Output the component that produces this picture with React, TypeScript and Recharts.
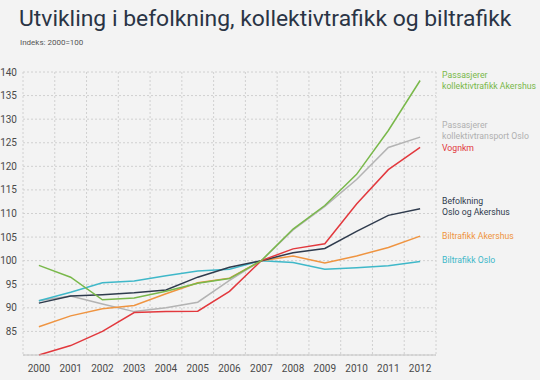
import { LineChart, Line, XAxis, YAxis, CartesianGrid } from "recharts";

const YEARS = [2000, 2001, 2002, 2003, 2004, 2005, 2006, 2007, 2008, 2009, 2010, 2011, 2012];
const Y_TICKS = [85, 90, 95, 100, 105, 110, 115, 120, 125, 130, 135, 140];

const kollAkershus = [99, 96.5, 91.7, 92.1, 93.5, 95.2, 96.2, 100, 106.7, 111.7, 118.3, 127.6, 138.2];
const kollOslo = [91.5, 92.5, 90.8, 89.2, 90, 91.2, 95.8, 100, 106.5, 111.5, 117.2, 124, 126.2];
const vognkm = [80, 82, 85, 89, 89.2, 89.3, 93.5, 100, 102.5, 103.6, 112, 119.3, 124];
const befolkning = [91, 92.5, 92.8, 93.2, 93.8, 96.5, 98.6, 100, 101.7, 102.6, 106.2, 109.6, 111];
const biltrafikkAkershus = [86, 88.3, 89.8, 90.5, 93, 95.3, 96.3, 100, 101, 99.5, 101, 102.8, 105.2];
const biltrafikkOslo = [91.5, 93.3, 95.3, 95.7, 96.8, 97.8, 98.2, 100, 99.6, 98.2, 98.5, 98.9, 99.8];

const data = YEARS.map((year, i) => ({
  year,
  kollAkershus: kollAkershus[i],
  kollOslo: kollOslo[i],
  vognkm: vognkm[i],
  befolkning: befolkning[i],
  biltrafikkAkershus: biltrafikkAkershus[i],
  biltrafikkOslo: biltrafikkOslo[i],
}));

const series = [
  { key: "kollOslo", color: "#b3b3b3" },
  { key: "biltrafikkOslo", color: "#3fb8c9" },
  { key: "biltrafikkAkershus", color: "#ef9440" },
  { key: "befolkning", color: "#2f3b4d" },
  { key: "vognkm", color: "#e2383d" },
  { key: "kollAkershus", color: "#79b84a" },
];

// labels to the right of the plot
const labels = [
  { lines: ["Passasjerer", "kollektivtrafikk Akershus"], color: "#79b84a", top: 70 },
  { lines: ["Passasjerer", "kollektivtransport Oslo"], color: "#b0b0b0", top: 120 },
  { lines: ["Vognkm"], color: "#e2383d", top: 143 },
  { lines: ["Befolkning", "Oslo og Akershus"], color: "#2f3b4d", top: 196 },
  { lines: ["Biltrafikk Akershus"], color: "#ef9440", top: 231 },
  { lines: ["Biltrafikk Oslo"], color: "#3fb8c9", top: 255 },
];

const FONT = "Roboto, 'DejaVu Sans', sans-serif";

// band edges, 1999.5 .. 2012.5
const EDGES = [...YEARS.map((y) => y - 0.5), 2012.5];

export default function App() {
  return (
    <div
      style={{
        position: "absolute",
        left: 0,
        top: 0,
        width: 540,
        height: 380,
        background: "#f3f3f3",
        fontFamily: FONT,
        overflow: "hidden",
      }}
    >
      <div
        style={{
          position: "absolute",
          left: 19,
          top: 5,
          fontSize: 22.9,
          fontWeight: 400,
          color: "#2a3445",
          whiteSpace: "nowrap",
        }}
      >
        Utvikling i befolkning, kollektivtrafikk og biltrafikk
      </div>
      <div
        style={{
          position: "absolute",
          left: 20,
          top: 38,
          fontSize: 8,
          color: "#555",
        }}
      >
        Indeks: 2000=100
      </div>

      <div style={{ position: "absolute", left: 0, top: 0 }}>
        <LineChart
          width={540}
          height={380}
          data={data}
          margin={{ top: 72, right: 104, bottom: 0, left: 0 }}
        >
          <CartesianGrid
            stroke="#d0d0d0"
            strokeDasharray="2 2"
            verticalCoordinatesGenerator={({ offset }: any) =>
              EDGES.map(
                (e) => offset.left + ((e - 1999.5) / 13) * offset.width
              )
            }
          />
          <XAxis
            dataKey="year"
            type="number"
            domain={[1999.5, 2012.5]}
            ticks={YEARS}
            interval={0}
            height={25}
            tickLine={false}
            tickSize={0}
            tickMargin={10}
            axisLine={{ stroke: "#c4c4c4" }}
            tick={{ fontSize: 10, fill: "#4a4a4a", fontFamily: FONT }}
          />
          <YAxis
            type="number"
            domain={[80, 140]}
            ticks={Y_TICKS}
            interval={0}
            width={23}
            tickLine={false}
            axisLine={false}
            tickSize={0}
            tickMargin={6}
            tick={{ fontSize: 10, fill: "#4a4a4a", fontFamily: FONT }}
          />
          {series.map((s) => (
            <Line
              key={s.key}
              type="linear"
              dataKey={s.key}
              stroke={s.color}
              strokeWidth={1.5}
              dot={false}
              isAnimationActive={false}
            />
          ))}
        </LineChart>
      </div>

      {labels.map((l) => (
        <div
          key={l.lines.join()}
          style={{
            position: "absolute",
            left: 442,
            top: l.top,
            fontSize: 8.7,
            lineHeight: "11px",
            color: l.color,
            whiteSpace: "nowrap",
          }}
        >
          {l.lines.map((t) => (
            <div key={t}>{t}</div>
          ))}
        </div>
      ))}
    </div>
  );
}
